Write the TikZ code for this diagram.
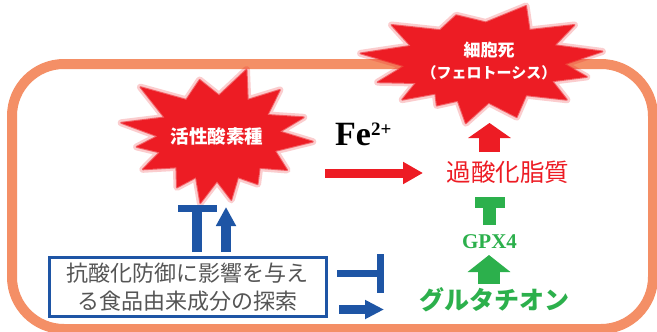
\documentclass[tikz,border=0pt]{standalone}
\usepackage{fontspec}
\setmainfont{Liberation Serif}
\newfontfamily\cjk{Noto Sans CJK JP}
\usetikzlibrary{arrows.meta}
\definecolor{frameor}{RGB}{244,143,102}
\definecolor{sred}{RGB}{237,28,36}
\definecolor{sgreen}{RGB}{44,176,76}
\definecolor{sblue}{RGB}{30,85,165}
\definecolor{sgray}{RGB}{85,85,85}
\begin{document}
\begin{tikzpicture}[x=1pt,y=-1pt,
  halo/.style={draw=sred, line width=7pt, line join=round, draw opacity=0.22},
  burst/.style={fill=sred, draw=sred, line width=2pt, line join=round, draw opacity=0.6},
  bursttext/.style={text=white, align=center, inner sep=0pt},
  redarr/.style={draw=sred, line width=9pt, -{Triangle[length=20pt 0 0, width=21pt 0 0]}},
  redup/.style={draw=sred, line width=21pt, -{Triangle[length=15pt 0 0, width=42pt 0 0]}},
  greenbar/.style={draw=sgreen, line width=13pt, -{Rectangle[length=11pt 0 0, width=30pt 0 0]}},
  greenup/.style={draw=sgreen, line width=22pt, -{Triangle[length=17pt 0 0, width=42pt 0 0]}},
  bluebar/.style={draw=sblue, line width=10pt, -{Rectangle[length=7pt 0 0, width=39pt 0 0]}},
  blueup/.style={draw=sblue, line width=10pt, -{Triangle[length=19pt 0 0, width=19pt 0 0]}},
  bluebarh/.style={draw=sblue, line width=7pt, -{Rectangle[length=7pt 0 0, width=39pt 0 0]}},
  bluearr/.style={draw=sblue, line width=9pt, -{Triangle[length=19pt 0 0, width=18pt 0 0]}}
]
\useasboundingbox (0,0) rectangle (657,332);
\fill[white] (0,0) rectangle (657,332);

% cell frame
\draw[frameor, line width=10pt, rounded corners=52pt] (12,64) rectangle (653,329);

% starburst: reactive oxygen species
\begin{scope}[shift={(217,137)}, xscale=96, yscale=67]
\def\ptsA{-152/0.62, -137/1.09, -120/0.64, -102/0.87, -88/0.62, -73/1.05, -60/0.64, -47/0.96, -32/0.62, -18/0.95, -7/0.66, 4/1.0, 19/0.64, 34/0.88, 46/0.64, 59/0.82, 70/0.64, 81/0.95, 90/0.66, 100/1.0, 110/0.64, 119/0.86, 133/0.62, 148/0.91, 159/0.64, 170/0.85, 181/0.62}
\path[halo] (-168:1.02) \foreach \a/\r in \ptsA {-- (\a:\r)} -- cycle;
\path[burst] (-168:1.02) \foreach \a/\r in \ptsA {-- (\a:\r)} -- cycle;
\end{scope}

% starburst: cell death
\begin{scope}[shift={(483,62)}, xscale=120, yscale=60]
\def\ptsB{-156/0.66, -141/0.98, -124/0.64, -106/0.81, -88/0.66, -69/1.0, -54/0.66, -39/0.98, -25/0.66, -10/1.01, 3/0.68, 16/0.9, 29/0.66, 42/0.94, 57/0.66, 73/0.96, 86/0.68, 98/1.03, 108/0.68, 118/0.82, 127/0.66, 137/0.92, 148/0.66, 159/0.94, 174/0.66}
\path[halo] (-172:1.03) \foreach \a/\r in \ptsB {-- (\a:\r)} -- cycle;
\path[burst] (-172:1.03) \foreach \a/\r in \ptsB {-- (\a:\r)} -- cycle;
\end{scope}

% texts
\node[bursttext, font=\cjk\bfseries\fontsize{18.5}{20}\selectfont] (ros) at (217,136) {活性酸素種};
\node[bursttext, font=\cjk\bfseries\fontsize{15}{22}\selectfont] (death) at (489,61) {{\fontsize{17}{22}\selectfont 細胞死}\\（フェロトーシス）};
\node[anchor=base west, inner sep=0pt, font=\bfseries\fontsize{34}{34}\selectfont] (fe) at (335,145) {Fe\raisebox{10pt}{\fontsize{19}{19}\selectfont 2+}};
\node[text=sred, inner sep=0pt, font=\cjk\fontsize{24.5}{26}\selectfont] (lipid) at (508,172) {過酸化脂質};
\node[text=sgreen, inner sep=0pt, font=\bfseries\fontsize{21}{21}\selectfont] (gpx) at (489.5,242) {GPX4};
\node[text=sgreen, inner sep=0pt, font=\cjk\bfseries\fontsize{25}{26}\selectfont] (gsh) at (494,300) {グルタチオン};
\node[draw=sblue, line width=3pt, minimum width=277pt, minimum height=59pt, inner sep=0pt,
      text=sgray, font=\cjk\fontsize{22}{28}\selectfont, align=center] (box) at (187.5,287)
      {抗酸化防御に影響を与え\\る食品由来成分の探索};

% connector end points
\coordinate (r1) at (325,173);   \coordinate (r2) at (423,173);
\coordinate (u1) at (489.5,152); \coordinate (u2) at (489.5,123);
\coordinate (t1) at (489.5,225); \coordinate (t2) at (489.5,197);
\coordinate (g1) at (489,284);   \coordinate (g2) at (489,255);
\coordinate (b1) at (197,252);   \coordinate (b2) at (197,205);
\coordinate (b3) at (226,252);   \coordinate (b4) at (226,207);
\coordinate (s1) at (337,273.5); \coordinate (s2) at (384,273.5);
\coordinate (s3) at (339,309.5); \coordinate (s4) at (384,309.5);

% connectors
\draw[redarr] (r1) -- (r2);
\draw[redup] (u1) -- (u2);
\draw[greenbar] (t1) -- (t2);
\draw[greenup] (g1) -- (g2);
\draw[bluebar] (b1) -- (b2);
\draw[blueup] (b3) -- (b4);
\draw[bluebarh] (s1) -- (s2);
\draw[bluearr] (s3) -- (s4);
\end{tikzpicture}
\end{document}
